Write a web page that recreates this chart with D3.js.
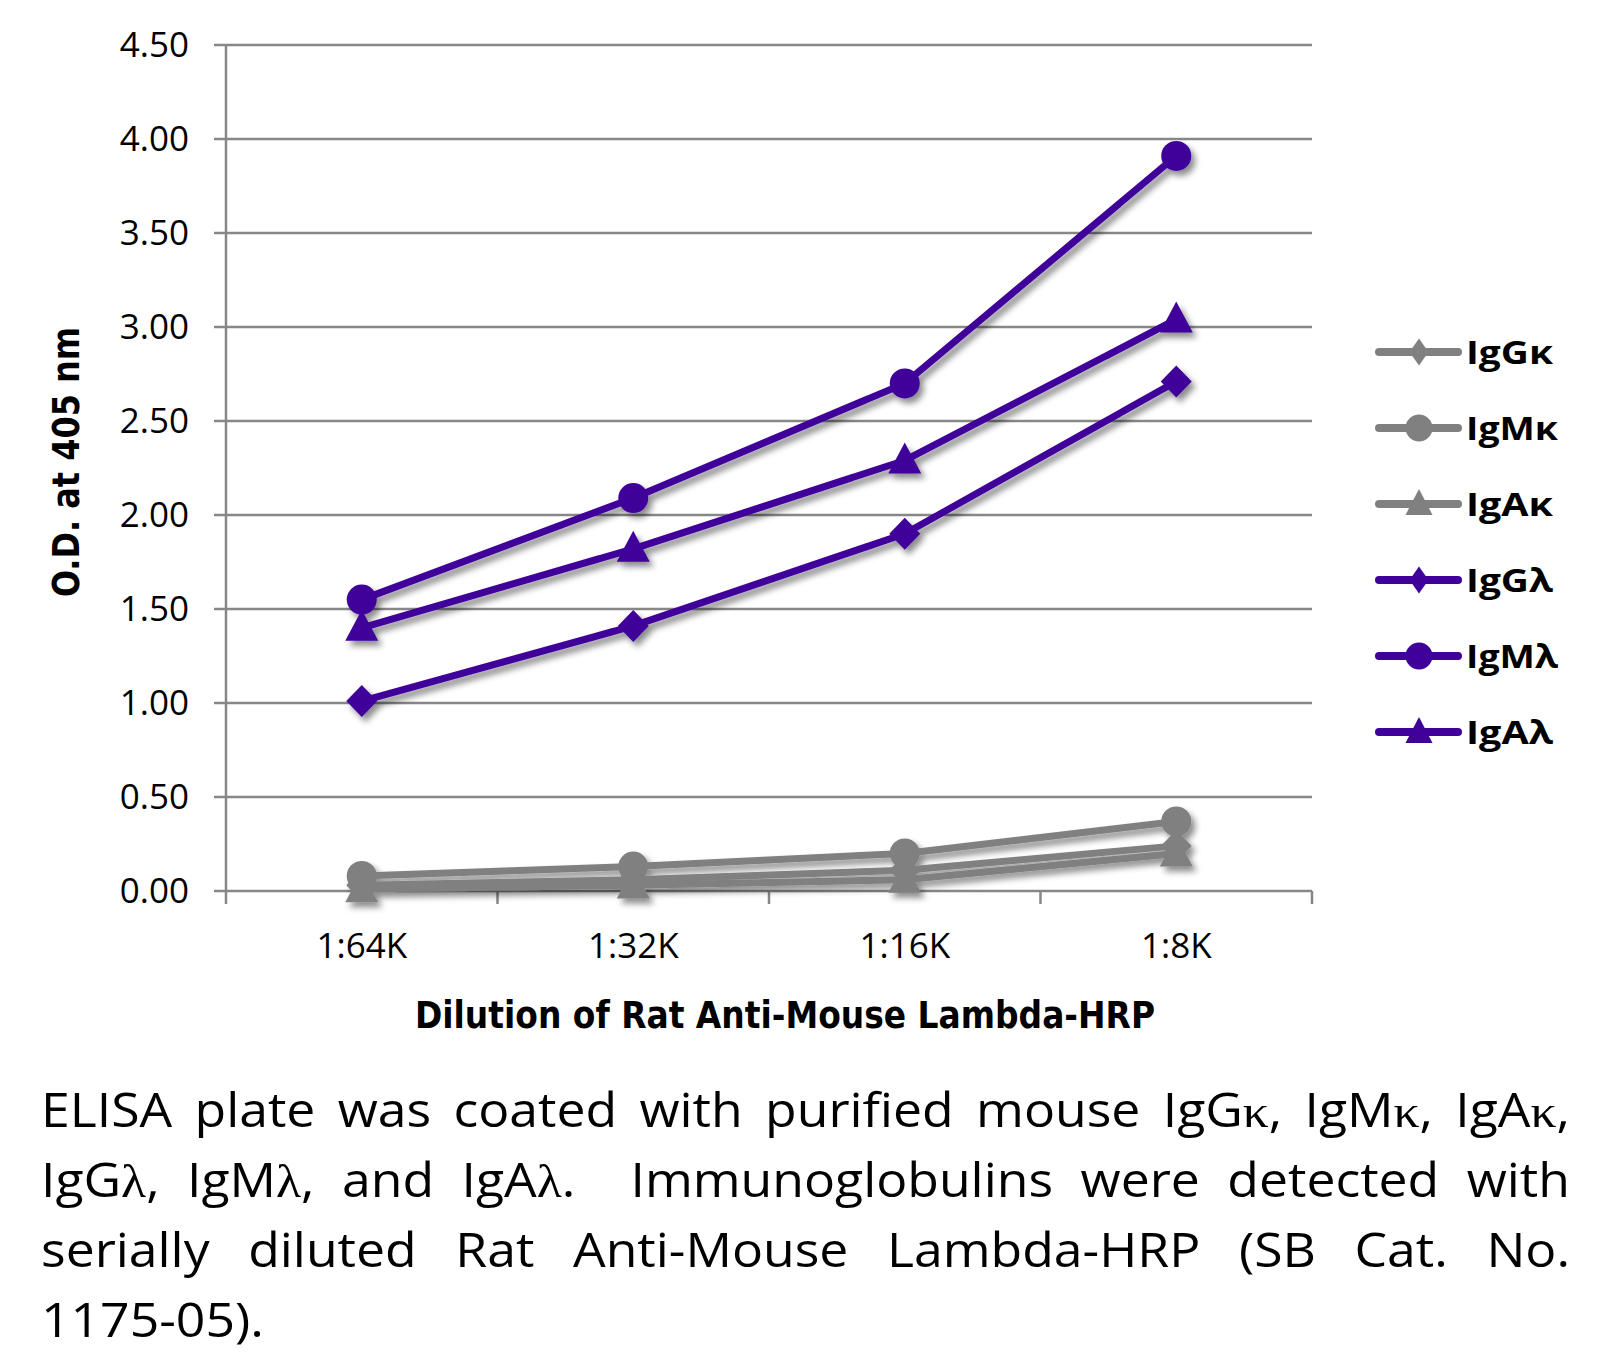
<!DOCTYPE html>
<html><head><meta charset="utf-8">
<script src="https://cdn.jsdelivr.net/npm/d3@7"></script>
<style>
html,body{margin:0;padding:0;background:#fff;}
svg{display:block;}
</style></head>
<body>
<svg id="chart" width="1604" height="1352"></svg>
<script>
// ---- data ----
const categories = ["1:64K", "1:32K", "1:16K", "1:8K"];
const seriesNames = ["IgGκ", "IgMκ", "IgAκ", "IgGλ", "IgMλ", "IgAλ"];
const igGk = [0.03, 0.06, 0.11, 0.24];
const igMk = [0.08, 0.13, 0.20, 0.37];
const igAk = [0.01, 0.03, 0.06, 0.20];
const igGl = [1.01, 1.41, 1.90, 2.71];
const igMl = [1.55, 2.09, 2.70, 3.91];
const igAl = [1.40, 1.82, 2.29, 3.04];
const yTickValues = [0, 0.5, 1, 1.5, 2, 2.5, 3, 3.5, 4, 4.5];
const yTitle = "O.D. at 405 nm";
const xTitle = "Dilution of Rat Anti-Mouse Lambda-HRP";
const captionLines = [
  "ELISA plate was coated with purified mouse IgGκ, IgMκ, IgAκ,",
  "IgGλ, IgMλ, and IgAλ.  Immunoglobulins were detected with",
  "serially diluted Rat Anti-Mouse Lambda-HRP (SB Cat. No.",
  "1175-05)."
];

(function () {
const GREY = "#808080", PURPLE = "#40009a", GRID = "#878787";
const series = [
  {name: seriesNames[0], values: igGk, color: GREY, shape: "diamond"},
  {name: seriesNames[1], values: igMk, color: GREY, shape: "circle"},
  {name: seriesNames[2], values: igAk, color: GREY, shape: "triangle"},
  {name: seriesNames[3], values: igGl, color: PURPLE, shape: "diamond"},
  {name: seriesNames[4], values: igMl, color: PURPLE, shape: "circle"},
  {name: seriesNames[5], values: igAl, color: PURPLE, shape: "triangle"}
];

const svg = d3.select("#chart");
const pL = 226, pR = 1312, pT = 45, pB = 891;

const x = d3.scaleBand().domain(categories).range([pL, pR]).padding(0);
const cx = d => x(d) + x.bandwidth() / 2;
const y = d3.scaleLinear().domain([0, 4.5]).range([pB, pT]);

// shadow filter
const defs = svg.append("defs");
const f = defs.append("filter").attr("id", "shadow").attr("x", "-20%").attr("y", "-20%").attr("width", "140%").attr("height", "140%");
f.append("feDropShadow").attr("dx", 4).attr("dy", 5).attr("stdDeviation", 3)
  .attr("flood-color", "#000").attr("flood-opacity", 0.45);

// gridlines
svg.append("g").selectAll("line").data(yTickValues).join("line")
  .attr("x1", pL - 12).attr("x2", pR)
  .attr("y1", d => y(d)).attr("y2", d => y(d))
  .attr("stroke", GRID).attr("stroke-width", 2.5);

// y axis labels
const yAxis = d3.axisLeft(y).tickValues(yTickValues).tickFormat(d3.format(".2f"))
  .tickSize(0).tickPadding(37);
const gy = svg.append("g").attr("transform", `translate(${pL},0)`).call(yAxis);
gy.select(".domain").remove();
gy.selectAll("text").attr("font-family", "'Open Sans', sans-serif").attr("font-size", 35)
  .attr("fill", "#000");

// vertical axis line
svg.append("line").attr("x1", pL).attr("x2", pL).attr("y1", pT).attr("y2", pB + 13)
  .attr("stroke", GRID).attr("stroke-width", 2.5);

// x tick marks at band edges
const edges = categories.map(c => x(c)).concat([x.range()[1]]);
svg.append("g").selectAll("line").data(edges.slice(1)).join("line")
  .attr("x1", d => d).attr("x2", d => d).attr("y1", pB).attr("y2", pB + 13)
  .attr("stroke", GRID).attr("stroke-width", 2.5);

// x labels
const xAxis = d3.axisBottom(x).tickSize(0).tickPadding(42);
const gx = svg.append("g").attr("transform", `translate(0,${pB})`).call(xAxis);
gx.select(".domain").remove();
gx.selectAll("text").attr("font-family", "'Open Sans', sans-serif").attr("font-size", 35)
  .attr("fill", "#000");

// titles
const condensed = "'Liberation Sans Narrow', 'DejaVu Sans Condensed', 'Open Sans Condensed', sans-serif";
svg.append("text").attr("x", 785).attr("y", 1028).attr("text-anchor", "middle")
  .attr("font-family", condensed).attr("font-weight", "bold").attr("font-size", 37)
  .attr("font-stretch", "condensed")
  .attr("textLength", 740).attr("lengthAdjust", "spacingAndGlyphs").text(xTitle);
svg.append("text").attr("transform", "translate(79,462) rotate(-90)").attr("text-anchor", "middle")
  .attr("font-family", condensed).attr("font-weight", "bold").attr("font-size", 38)
  .attr("font-stretch", "condensed")
  .attr("textLength", 270).attr("lengthAdjust", "spacingAndGlyphs").text(yTitle);

// marker paths
function markerPath(shape, w, h) {
  if (shape === "diamond") return `M0,${-h/2}L${w/2},0L0,${h/2}L${-w/2},0Z`;
  if (shape === "triangle") return `M0,${-h*0.58}L${w/2},${h*0.42}L${-w/2},${h*0.42}Z`;
  return d3.arc()({innerRadius: 0, outerRadius: w/2, startAngle: 0, endAngle: 2*Math.PI});
}

const line = d3.line().x((d, i) => cx(categories[i])).y(d => y(d));

const plot = svg.append("g").attr("filter", "url(#shadow)");
series.forEach(s => {
  const g = plot.append("g");
  g.append("path").attr("d", line(s.values)).attr("fill", "none")
    .attr("stroke", s.color).attr("stroke-width", 7).attr("stroke-linejoin", "round");
  const size = s.shape === "circle" ? [30, 30] : s.shape === "diamond" ? [31, 32] : [33, 31];
  g.selectAll("path.m").data(s.values).join("path").attr("class", "m")
    .attr("transform", (d, i) => `translate(${cx(categories[i])},${y(d)})`)
    .attr("d", markerPath(s.shape, size[0], size[1])).attr("fill", s.color);
});

// legend
const legY = d3.scalePoint().domain(seriesNames).range([352, 732]);
const leg = svg.append("g");
series.forEach(s => {
  const yy = legY(s.name);
  leg.append("line").attr("x1", 1379).attr("x2", 1458).attr("y1", yy).attr("y2", yy)
    .attr("stroke", s.color).attr("stroke-width", 8).attr("stroke-linecap", "round");
  const size = s.shape === "circle" ? [27, 27] : s.shape === "diamond" ? [19, 27] : [27, 26];
  leg.append("path").attr("transform", `translate(1419,${yy})`)
    .attr("d", markerPath(s.shape, size[0], size[1])).attr("fill", s.color);
  leg.append("text").attr("x", 1466).attr("y", yy + 12)
    .attr("font-family", "'Open Sans', sans-serif").attr("font-weight", "bold").attr("font-size", 33)
    .attr("fill", "#000").attr("textLength", s.name.includes("M") ? 92 : 87).attr("lengthAdjust", "spacingAndGlyphs")
    .text(s.name);
});

// caption (justified, glyphs slightly widened like the reference)
const capLeft = 41, capRight = 1570, capBase = [1127, 1197, 1267, 1337], sx = 1.1;
captionLines.forEach((ln, i) => {
  const t = svg.append("text").attr("transform", `translate(${capLeft},${capBase[i]}) scale(${sx},1)`)
    .attr("x", 0).attr("y", 0)
    .attr("font-family", "'Open Sans', sans-serif").attr("font-size", 47).attr("fill", "#000")
    .style("white-space", "pre");
  ln.split(/([κλ])/).forEach(part => {
    if (!part) return;
    const ts = t.append("tspan").text(part);
    if (part === "κ" || part === "λ") ts.attr("font-family", "'Liberation Serif', 'DejaVu Serif', serif");
  });
  if (i < captionLines.length - 1) {
    const w = t.node().getComputedTextLength();
    const target = (capRight - capLeft) / sx;
    const spaces = (ln.match(/ /g) || []).length;
    if (w < target) t.style("word-spacing", ((target - w) / spaces) + "px");
    else t.attr("textLength", target).attr("lengthAdjust", "spacingAndGlyphs");
  }
});
})();
</script>
</body></html>
